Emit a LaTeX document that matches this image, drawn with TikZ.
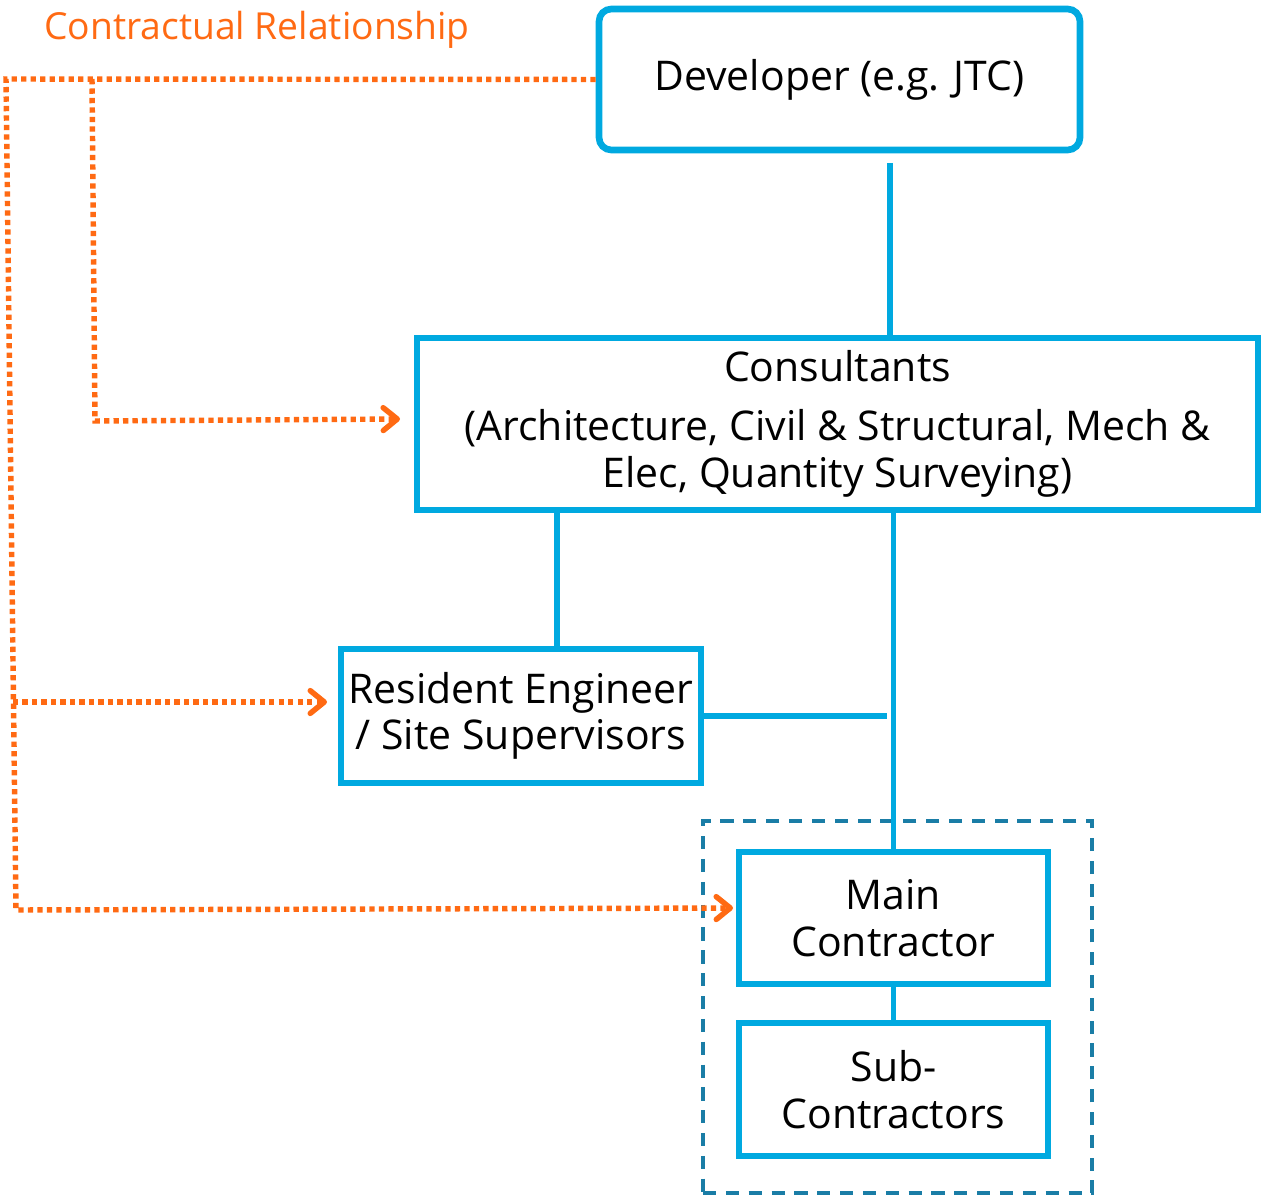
\documentclass[tikz,border=0pt]{standalone}
\usepackage{fontspec}
\setmainfont{Open Sans}
\usetikzlibrary{positioning,arrows.meta}
\definecolor{boxblue}{HTML}{00A9E0}
\definecolor{grpblue}{HTML}{1A7DA6}
\definecolor{relorange}{HTML}{FF6A13}

\begin{document}
\begin{tikzpicture}[x=0.02cm,y=-0.02cm]
	\tikzstyle{orgbox} = [rectangle, align=center, draw=boxblue, line width=3.8pt, inner sep=0pt, font=\fontsize{23.3}{26.5}\selectfont]
	\tikzstyle{link} = [draw=boxblue, line width=3pt]
	\tikzstyle{contract} = [draw=relorange, line width=3.1pt, dash pattern=on 3pt off 2.4pt, -{Straight Barb[length=8pt,width=13pt,round]}]
	
	\useasboundingbox (0,0) rectangle (1263,1196);
	
	\node (legend) at (257,30) [text=relorange, font=\fontsize{21.2}{24}\selectfont] {Contractual Relationship};
	
	\node (dev) at (839.5,79.5) [orgbox, rounded corners=7pt, minimum width=9.62cm, minimum height=2.82cm] {Developer (e.g. JTC)};
	\node (cons) at (837.5,424) [orgbox, minimum width=16.82cm, minimum height=3.44cm] {Consultants\\[7pt](Architecture, Civil \& Structural, Mech \&\\Elec, Quantity Surveying)};
	\node (res) at (521,716) [orgbox, minimum width=7.2cm, minimum height=2.68cm] {Resident Engineer\\/ Site Supervisors};
	
	\node (grp) at (897.5,1007) [draw=grpblue, line width=2pt, dash pattern=on 7.5pt off 5.5pt, minimum width=7.78cm, minimum height=7.44cm] {};
	\node (main) at (893.5,918) [orgbox, minimum width=6.18cm, minimum height=2.64cm] {Main\\Contractor};
	\node (sub) at (893.5,1089.5) [orgbox, minimum width=6.18cm, minimum height=2.66cm] {Sub-\\Contractors};
	
	\coordinate (devdown) at (890,163);
	\coordinate (consleft) at (557,513);
	\coordinate (resend) at (887,716);
	
	%Links
	\draw[link] (devdown) -- (devdown |- cons.north);
	\draw[link] (consleft) -- (consleft |- res.north);
	\draw[link] (main.north |- cons.south) -- (main.north);
	\draw[link] (res.east) -- (resend);
	\draw[link] (main.south) -- (sub.north);
	
	%Contracts
	\coordinate (topleft) at (6,79);
	\coordinate (botleft) at (16,910);
	\coordinate (branchtop) at (92,79);
	\coordinate (branchbot) at (95,421);
	\coordinate (resbranch) at (13,702);
	\coordinate (consin) at (400,419);
	\coordinate (resin) at (327,702);
	\coordinate (mainin) at (733,908);
	\draw[contract] (dev.west) -- (topleft) -- (botleft) -- (mainin);
	\draw[contract] (branchtop) -- (branchbot) -- (consin);
	\draw[contract] (resbranch) -- (resin);
	
\end{tikzpicture}
\end{document}
